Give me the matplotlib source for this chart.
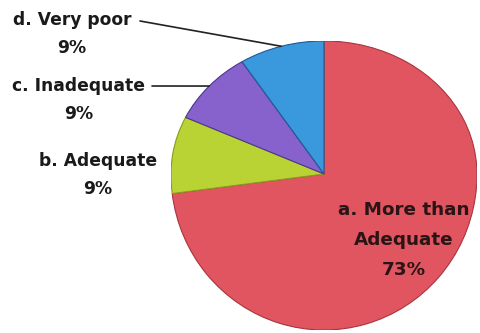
import matplotlib.pyplot as plt
from matplotlib.patches import PathPatch
from matplotlib.path import Path
import numpy as np

# Datos del gráfico
categorias = ['a. More than\nAdequate', 'b. Adequate', 'c. Inadequate', 'd. Very poor']
porcentajes = [73, 9, 9, 9]
colores = ['#E0555F', '#B9D234', '#8762CC', '#3A98DC']
bordes = ['#A8343E', '#8A9A20', '#4A3590', '#1F5A96']

# Semiejes de la elipse (en píxeles): ancho, arriba y abajo del centro
RX, RY_SUP, RY_INF = 153, 133, 156


def a_elipse(x, y):
    # Escala distinta arriba y abajo del centro (vista algo inclinada)
    return x * RX, np.where(y >= 0, y * RY_SUP, y * RY_INF)


fig = plt.figure(figsize=(4.81, 3.33), dpi=100)
W, H = 481, 333
ax = fig.add_axes([171 / W, (H - 330) / H, 306 / W, 289 / H])
ax.axis('off')

cuñas, _ = ax.pie(porcentajes, colors=colores, startangle=90, counterclock=False,
                  radius=1, center=(0, 0))
ax.set_aspect('auto')
ax.set_xlim(-RX, RX)
ax.set_ylim(-RY_INF, RY_SUP)

# Reemplazar cada cuña por su versión deformada
for cuña, borde in zip(cuñas, bordes):
    ruta = cuña.get_path()
    xs, ys = a_elipse(ruta.vertices[:, 0], ruta.vertices[:, 1])
    nueva = PathPatch(Path(np.column_stack([xs, ys]), ruta.codes),
                      facecolor=cuña.get_facecolor(), edgecolor=borde, lw=0.8)
    cuña.remove()
    ax.add_patch(nueva)


def rotulo(x, y0, paso, texto, **kw):
    # Escribe cada línea centrada en x, con la primera línea base en y0 (píxeles desde arriba)
    for i, linea in enumerate(texto.split('\n')):
        fig.text(x / W, 1 - (y0 + i * paso) / H, linea, ha='center', va='baseline',
                 family='DejaVu Sans', weight='bold', **kw)


# Etiqueta interior de la porción mayor
rotulo(404, 215, 30, f"{categorias[0]}\n{porcentajes[0]}%", fontsize=13.2, color='#2a1416')

# Etiquetas exteriores: (x centro, línea base, inicio de la línea guía o None)
posiciones = [(98, 166, None), (79, 91, (152, 86)), (72, 25, (140, 21))]
angulos = []
acum = porcentajes[0]
for p in porcentajes[1:]:
    medio = 90 - (acum + p / 2) * 3.6
    angulos.append(np.deg2rad(medio))
    acum += p

for cat, p, (x, y, guia), ang in zip(categorias[1:], porcentajes[1:], posiciones, angulos):
    rotulo(x, y, 28, f"{cat}\n{p}%", fontsize=12.3, color='#1a1a1a')
    if guia is not None:
        bx, by = a_elipse(np.cos(ang), np.sin(ang))
        ax.annotate('', xy=(bx, float(by)), xycoords='data',
                    xytext=(guia[0], H - guia[1]), textcoords='figure pixels',
                    arrowprops=dict(arrowstyle='-', color='#222222', lw=1.2,
                                    shrinkA=0, shrinkB=0))

fig.savefig('out.png', dpi=100)
